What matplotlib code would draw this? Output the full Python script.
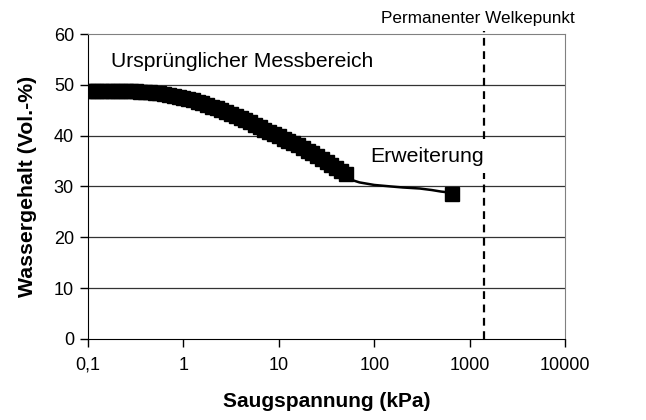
import numpy as np
import matplotlib
matplotlib.use("Agg")
import matplotlib.pyplot as plt

plt.rcParams['font.family'] = ['Liberation Sans', 'DejaVu Sans']

suction_meas = [0.1, 0.112, 0.126, 0.141, 0.158, 0.178, 0.2, 0.224, 0.251, 0.282,
                0.316, 0.355, 0.398, 0.447, 0.501, 0.562, 0.631, 0.708, 0.794, 0.891,
                1.0, 1.12, 1.26, 1.41, 1.58, 1.78, 2.0, 2.24, 2.51, 2.82,
                3.16, 3.55, 3.98, 4.47, 5.01, 5.62, 6.31, 7.08, 7.94, 8.91,
                10.0, 11.2, 12.6, 14.1, 15.8, 17.8, 20.0, 22.4, 25.1, 28.2,
                31.6, 35.5, 39.8, 44.7, 50.1]
water_meas = [48.7, 48.7, 48.7, 48.8, 48.8, 48.8, 48.8, 48.8, 48.8, 48.7,
              48.7, 48.6, 48.6, 48.5, 48.4, 48.3, 48.2, 48.0, 47.9, 47.7,
              47.5, 47.3, 47.0, 46.7, 46.4, 46.1, 45.7, 45.4, 45.0, 44.7,
              44.3, 43.9, 43.4, 43.0, 42.6, 42.1, 41.7, 41.2, 40.8, 40.3,
              39.9, 39.4, 39.0, 38.6, 38.1, 37.6, 37.0, 36.5, 35.9, 35.4,
              34.8, 34.3, 33.7, 33.1, 32.5]

# extension
suction_ext = [50, 60, 70, 100, 150, 200, 300, 400, 500, 620]
water_ext = [32.0, 31.2, 30.8, 30.3, 30.0, 29.8, 29.6, 29.3, 29.0, 28.8]
suction_last = [650]
water_last = [28.6]

pwp = 1400  # permanenter Welkepunkt (kPa)

x_ticks = [0.1, 1, 10, 100, 1000, 10000]
x_ticklabels = ['0,1', '1', '10', '100', '1000', '10000']
y_ticks = [0, 10, 20, 30, 40, 50, 60]

fig = plt.figure(figsize=(6.46, 4.2), dpi=100)
ax = fig.add_axes([0.136, 0.193, 0.739, 0.726])

ax.plot([pwp, pwp], [0, 60.6], color='black', lw=1.6, ls=(0, (3.5, 2.5)),
        clip_on=False, zorder=2)

ax.plot(suction_ext, water_ext, color='black', lw=1.8, solid_capstyle='butt', zorder=4)
# dense measurement points -> thick band
ax.plot(suction_meas, water_meas, color='black', lw=10, solid_capstyle='butt',
        marker='s', ms=10, mfc='black', mec='black', zorder=4)
ax.plot(suction_last, water_last, ls='none', marker='s', ms=10, mfc='black', mec='black', zorder=4)

ax.set_xscale('log')
ax.set_xlim(0.1, 10000)
ax.set_ylim(0, 60)
ax.set_xticks(x_ticks)
ax.set_xticklabels(x_ticklabels)
ax.minorticks_off()
ax.set_yticks(y_ticks)
ax.tick_params(axis='both', direction='out', length=6, width=1, labelsize=13)
ax.tick_params(axis='x', pad=7)
ax.tick_params(axis='y', pad=4)

for y in y_ticks[1:-1]:
    ax.axhline(y, color='#333333', lw=0.9, zorder=1)

ax.spines['left'].set_color('black')
ax.spines['bottom'].set_color('black')
ax.spines['top'].set_color('#808080')
ax.spines['right'].set_color('#808080')

ax.set_xlabel('Saugspannung (kPa)', fontsize=15, fontweight='bold', labelpad=13)
ax.set_ylabel('Wassergehalt (Vol.-%)', fontsize=15.3, fontweight='bold', labelpad=12)

ax.text(0.174, 54.5, 'Ursprünglicher Messbereich', fontsize=15.2, va='center', ha='left', zorder=3)
ax.text(90, 35.9, 'Erweiterung', fontsize=15.3, va='center', ha='left', zorder=3,
        bbox=dict(boxstyle='square,pad=0.35', fc='white', ec='none'))
fig.text(478 / 646, 1 - 18 / 420, 'Permanenter Welkepunkt', fontsize=12.3, ha='center', va='center')

fig.savefig('out.png', dpi=100)
